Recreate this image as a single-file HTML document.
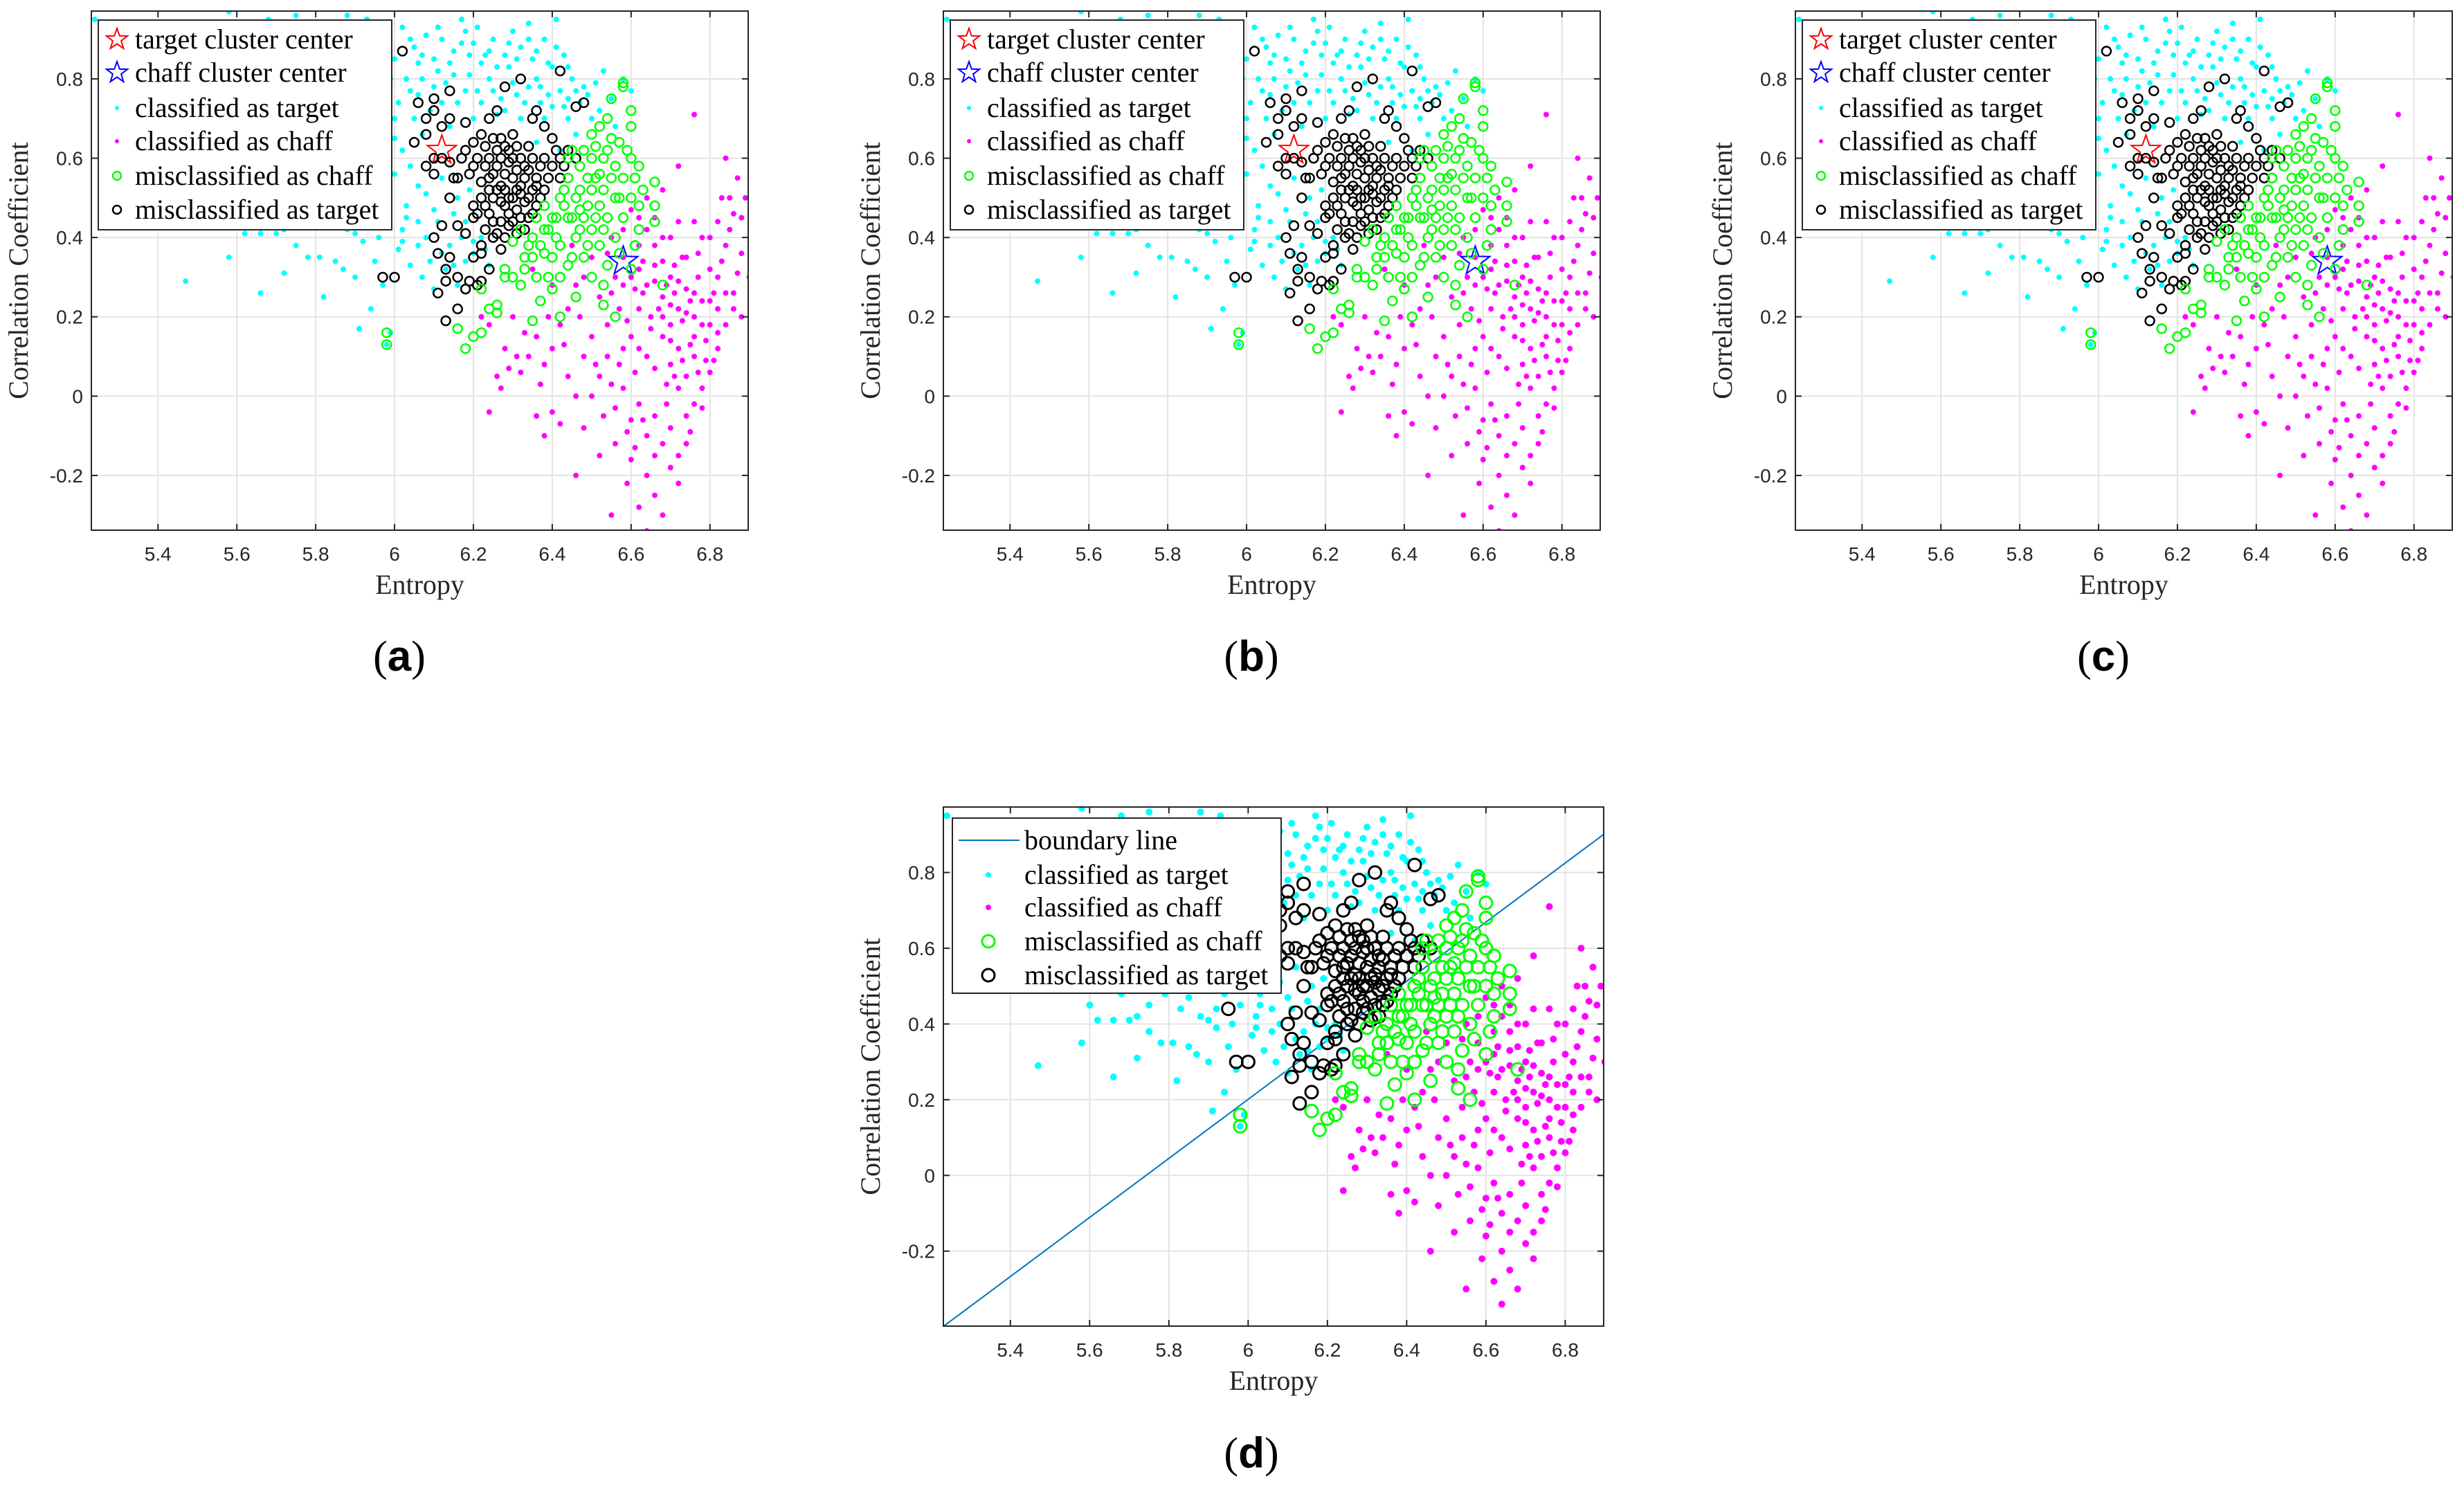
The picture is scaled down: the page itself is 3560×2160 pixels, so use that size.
<!DOCTYPE html>
<html><head><meta charset="utf-8"><style>
html,body{margin:0;padding:0;background:#fff;}
svg{display:block;}
</style></head><body>
<svg id="fig" xmlns="http://www.w3.org/2000/svg" width="3560" height="2160" viewBox="0 0 3560 2160"></svg>
<script>
const xTicks=[5.4,5.6,5.8,6,6.2,6.4,6.6,6.8];
const xTickLabels=["5.4","5.6","5.8","6","6.2","6.4","6.6","6.8"];
const yTicks=[0.8,0.6,0.4,0.2,0,-0.2];
const yTickLabels=["0.8","0.6","0.4","0.2","0","-0.2"];
const targetCenter=[6.12,0.62];
const chaffCenter=[6.58,0.34];
const boundarySlope=0.78;
const boundaryIntercept=-0.398;
const boundaryX0=5.232;
const cyanPts=[6.02,0.93,6.05,0.88,6.08,0.91,6.1,0.85,6.12,0.9,6.15,0.87,6.18,0.92,6.2,0.89,6.22,0.84,6.25,0.9,6.28,0.86,6.3,0.92,6.32,0.88,6.35,0.85,6.38,0.9,6.4,0.83,6.43,0.86,6.45,0.8,6.03,0.8,6.06,0.76,6.09,0.72,6.13,0.79,6.16,0.74,6.19,0.81,6.21,0.77,6.24,0.8,6.27,0.75,6.3,0.79,6.33,0.74,6.36,0.8,6.39,0.76,6.42,0.77,6.47,0.74,6.5,0.7,6.26,0.71,6.32,0.7,6.38,0.7,6.44,0.7,6.2,0.7,6.14,0.68,6.07,0.66,6.02,0.62,6.0,0.7,5.98,0.75,5.95,0.83,5.97,0.9,5.93,0.95,5.88,0.96,5.75,0.96,5.68,0.95,5.58,0.97,5.24,0.95,5.82,0.6,5.86,0.55,5.9,0.5,5.94,0.58,5.97,0.52,6.0,0.56,6.03,0.48,6.06,0.53,6.1,0.47,6.12,0.55,6.16,0.5,6.18,0.44,5.92,0.44,5.88,0.42,5.96,0.4,6.02,0.42,6.08,0.4,6.14,0.38,6.2,0.36,6.24,0.33,6.22,0.4,5.85,0.47,5.8,0.52,5.78,0.57,5.75,0.45,5.72,0.42,5.7,0.41,5.68,0.48,5.64,0.52,5.66,0.41,5.6,0.45,5.47,0.29,5.58,0.35,5.62,0.41,5.66,0.26,5.72,0.31,5.75,0.38,5.78,0.35,5.81,0.35,5.82,0.25,5.85,0.34,5.87,0.32,5.9,0.3,5.91,0.17,5.92,0.39,5.94,0.22,5.95,0.34,5.97,0.28,5.98,0.13,5.99,0.16,6.01,0.37,6.04,0.33,6.07,0.3,6.1,0.27,6.13,0.32,6.16,0.28,6.03,0.45,6.06,0.44,6.48,0.78,6.52,0.72,6.55,0.75,6.58,0.8,6.56,0.68,6.46,0.66,6.42,0.62,6.36,0.64,6.6,0.77,6.53,0.82,6.11,0.82,6.23,0.86,6.34,0.94,6.41,0.95,6.17,0.95,6.29,0.83,6.37,0.78,6.44,0.75,6.06,0.84,6.0,0.65,5.92,0.66,5.86,0.63,5.9,0.72,5.84,0.8,
6.04,0.9,6.07,0.86,6.11,0.93,6.14,0.84,6.17,0.89,6.19,0.86,6.21,0.93,6.24,0.87,6.26,0.83,6.29,0.89,6.31,0.85,6.34,0.9,6.36,0.87,6.39,0.84,6.41,0.88,6.44,0.83,6.46,0.77,6.49,0.76,6.51,0.79,6.04,0.77,6.07,0.8,6.1,0.78,6.12,0.74,6.15,0.81,6.18,0.77,6.22,0.74,6.25,0.77,6.28,0.72,6.31,0.76,6.34,0.78,6.37,0.74,6.4,0.73,6.43,0.73,6.05,0.7,6.01,0.74,5.99,0.8,6.0,0.85,5.96,0.68,5.94,0.62,5.9,0.57,5.88,0.6,5.84,0.52,5.98,0.6,6.04,0.58,6.08,0.51,6.11,0.44,6.15,0.46,6.19,0.52,6.17,0.4,6.2,0.39,6.23,0.37,6.18,0.34,6.15,0.33,6.12,0.36,6.09,0.34,6.06,0.38,6.02,0.39,5.98,0.45,5.94,0.48,5.9,0.41,5.83,0.44,5.79,0.48,5.76,0.53,5.73,0.49];
const magentaPts=[6.55,0.4,6.58,0.35,6.6,0.3,6.62,0.38,6.64,0.28,6.66,0.33,6.68,0.25,6.7,0.3,6.72,0.22,6.74,0.27,6.76,0.2,6.78,0.24,6.8,0.18,6.82,0.3,6.84,0.38,6.86,0.26,6.88,0.45,6.7,0.4,6.74,0.35,6.78,0.4,6.82,0.44,6.66,0.45,6.62,0.22,6.6,0.15,6.64,0.1,6.68,0.15,6.7,0.08,6.72,0.12,6.74,0.05,6.76,0.1,6.78,0.02,6.8,0.06,6.82,0.12,6.84,0.18,6.86,0.22,6.88,0.36,6.89,0.5,6.87,0.55,6.85,0.5,6.84,0.6,6.76,0.71,6.72,0.58,6.68,0.52,6.64,0.5,6.6,0.47,6.56,0.3,6.57,0.22,6.54,0.18,6.52,0.25,6.5,0.35,6.48,0.3,6.46,0.28,6.44,0.22,6.42,0.18,6.4,0.12,6.38,0.08,6.36,0.15,6.34,0.1,6.32,0.06,6.3,0.2,6.28,0.12,6.26,0.05,6.24,0.18,6.22,0.2,6.44,0.05,6.48,0.1,6.5,0.0,6.52,0.05,6.54,0.1,6.56,-0.03,6.58,0.02,6.6,-0.06,6.62,-0.02,6.64,-0.1,6.66,-0.05,6.68,-0.12,6.7,-0.08,6.72,-0.15,6.74,-0.05,6.76,-0.02,6.78,-0.03,6.56,-0.12,6.6,-0.16,6.64,-0.2,6.66,-0.25,6.68,-0.3,6.62,-0.28,6.55,-0.3,6.64,-0.34,6.72,-0.22,6.52,-0.15,6.48,-0.08,6.4,-0.04,6.38,-0.1,6.27,0.02,6.24,-0.04,6.46,-0.2,6.58,0.12,6.62,0.32,6.58,0.42,6.54,0.36,6.7,0.18,6.73,0.35,6.77,0.3,6.8,0.32,6.82,0.22,6.76,0.15,6.72,0.02,6.68,0.2,6.66,0.38,6.64,0.42,6.35,0.32,6.4,0.28,6.45,0.38,6.69,0.28,6.71,0.26,6.73,0.19,6.75,0.24,6.71,0.33,6.67,0.22,6.63,0.26,6.79,0.14,6.81,0.26,6.77,0.36,6.65,0.17,6.61,0.06,6.69,0.03,6.75,-0.09,6.59,-0.22,
6.66,0.29,6.68,0.34,6.7,0.23,6.72,0.29,6.74,0.21,6.76,0.26,6.78,0.18,6.8,0.24,6.7,0.14,6.73,0.09,6.77,0.06,6.81,0.09,6.83,0.34,6.85,0.42,6.87,0.31,6.86,0.46,6.83,0.5,6.8,0.4,6.76,0.44,6.72,0.44,6.68,0.4,6.63,0.34,6.61,0.27,6.59,0.19,6.57,0.08,6.55,0.03,6.62,0.12,6.66,0.07,6.69,-0.02,6.63,-0.06,6.59,-0.09,6.53,-0.05,6.5,0.15,6.47,0.2,6.43,0.13,6.39,0.2,6.37,0.03,6.33,0.16,6.31,0.1,6.29,0.07,6.36,-0.05,6.42,-0.07,6.46,0.0,6.51,0.08,6.55,0.26,6.58,0.28,6.62,0.45,6.65,0.2,6.71,0.05,6.75,0.13,6.79,0.09,6.82,0.16,6.84,0.26,6.88,0.2,6.9,0.3,6.74,-0.12,6.7,-0.18,6.66,-0.15,6.61,-0.13];
const greenPts=[6.16,0.17,6.18,0.12,6.2,0.15,6.22,0.16,6.22,0.27,6.24,0.22,6.26,0.23,6.26,0.21,6.28,0.3,6.3,0.3,6.32,0.28,6.33,0.35,6.35,0.4,6.35,0.19,6.36,0.3,6.37,0.24,6.38,0.36,6.38,0.42,6.4,0.27,6.4,0.45,6.42,0.2,6.42,0.3,6.42,0.38,6.42,0.5,6.44,0.33,6.44,0.45,6.44,0.55,6.46,0.25,6.46,0.4,6.46,0.5,6.47,0.58,6.48,0.35,6.48,0.45,6.48,0.62,6.5,0.3,6.5,0.42,6.5,0.52,6.5,0.6,6.5,0.66,6.52,0.38,6.52,0.48,6.52,0.56,6.52,0.68,6.53,0.23,6.53,0.28,6.54,0.33,6.54,0.45,6.54,0.62,6.54,0.7,6.56,0.4,6.56,0.5,6.56,0.58,6.56,0.2,6.57,0.64,6.58,0.45,6.58,0.55,6.58,0.79,6.6,0.32,6.6,0.5,6.6,0.6,6.6,0.72,6.6,0.68,6.62,0.42,6.62,0.58,6.62,0.48,6.66,0.54,6.66,0.48,6.66,0.44,6.68,0.28,6.58,0.78,6.55,0.75,6.4,0.35,6.36,0.45,6.3,0.39,6.32,0.42,6.45,0.62,6.49,0.55,6.44,0.6,6.28,0.32,5.98,0.16,5.98,0.13,6.34,0.38,6.38,0.48,6.41,0.4,6.43,0.52,6.47,0.47,6.51,0.45,6.53,0.52,6.45,0.35,6.39,0.3,6.57,0.36,6.61,0.38,6.63,0.52,
6.45,0.45,6.47,0.52,6.49,0.48,6.51,0.55,6.53,0.6,6.55,0.55,6.55,0.65,6.51,0.63,6.49,0.38,6.47,0.42,6.43,0.48,6.41,0.45,6.39,0.42,6.37,0.38,6.35,0.35,6.33,0.32,6.53,0.42,6.57,0.5,6.59,0.62,6.61,0.55];
const blackPts=[6.02,0.87,5.97,0.3,6.0,0.3,6.06,0.74,6.1,0.75,6.14,0.77,6.08,0.7,6.1,0.72,6.14,0.7,6.12,0.68,6.05,0.64,6.08,0.66,6.1,0.6,6.12,0.6,6.14,0.59,6.15,0.55,6.16,0.55,6.08,0.58,6.1,0.56,6.14,0.5,6.16,0.43,6.18,0.41,6.12,0.43,6.1,0.4,6.11,0.36,6.14,0.35,6.13,0.32,6.13,0.29,6.16,0.3,6.19,0.29,6.21,0.28,6.22,0.29,6.11,0.26,6.13,0.19,6.16,0.22,6.18,0.27,6.2,0.35,6.22,0.36,6.24,0.32,6.22,0.38,6.25,0.4,6.27,0.37,6.28,0.4,6.2,0.45,6.22,0.5,6.24,0.55,6.2,0.58,6.18,0.62,6.2,0.64,6.22,0.66,6.24,0.6,6.26,0.62,6.26,0.52,6.28,0.56,6.28,0.48,6.3,0.5,6.3,0.6,6.3,0.66,6.32,0.53,6.32,0.45,6.34,0.5,6.34,0.57,6.34,0.63,6.36,0.48,6.36,0.55,6.38,0.52,6.38,0.6,6.4,0.58,6.4,0.65,6.42,0.6,6.42,0.55,6.44,0.62,6.46,0.6,6.28,0.78,6.32,0.8,6.42,0.82,6.46,0.73,6.48,0.74,6.35,0.7,6.38,0.68,6.36,0.72,6.24,0.7,6.26,0.72,6.18,0.69,6.27,0.44,6.29,0.43,6.31,0.47,6.33,0.42,6.24,0.46,6.26,0.58,6.3,0.55,6.32,0.6,6.28,0.63,6.25,0.5,6.22,0.54,6.35,0.52,6.37,0.58,6.3,0.44,5.95,0.44,6.2,0.48,6.27,0.53,6.29,0.5,6.33,0.49,6.31,0.57,6.23,0.58,6.25,0.65,6.29,0.59,6.31,0.52,6.33,0.55,6.27,0.6,6.25,0.44,6.23,0.42,6.35,0.46,6.27,0.49,
6.21,0.6,6.23,0.63,6.25,0.56,6.27,0.65,6.29,0.62,6.31,0.63,6.33,0.58,6.35,0.6,6.37,0.5,6.29,0.46,6.31,0.41,6.26,0.41,6.24,0.52,6.28,0.52,6.32,0.51,6.36,0.53,6.34,0.45,6.39,0.55,6.41,0.62,6.43,0.58,6.19,0.56,6.17,0.6,6.21,0.46,6.23,0.48];

const NS="http://www.w3.org/2000/svg";
const svg=document.getElementById('fig');
function mk(tag,attrs,parent){const e=document.createElementNS(NS,tag);for(const k in attrs)e.setAttribute(k,attrs[k]);(parent||svg).appendChild(e);return e;}

const panels=[
 {id:'a',px0:132,px1:1081,py0:16,py1:766,ymin:-0.338,ymax:0.971,lx:142,ly:29,lw:424,lh:303,lab:[577,949]},
 {id:'b',px0:1363,px1:2312,py0:16,py1:766,ymin:-0.338,ymax:0.971,lx:1373,ly:29,lw:424,lh:303,lab:[1808,949]},
 {id:'c',px0:2594,px1:3543,py0:16,py1:766,ymin:-0.338,ymax:0.971,lx:2604,ly:29,lw:424,lh:303,lab:[3039,949]},
 {id:'d',px0:1363,px1:2317,py0:1166,py1:1916,ymin:-0.398,ymax:0.973,lx:1376,ly:1182,lw:475,lh:253,lab:[1808,2100]}
];
const XMIN=5.231,XMAX=6.897;

function star(g,cx,cy,r,color){
 let p=[];for(let i=0;i<10;i++){const a=-Math.PI/2+i*Math.PI/5;const rr=i%2?r*0.4:r;p.push((cx+rr*Math.cos(a)).toFixed(1)+','+(cy+rr*Math.sin(a)).toFixed(1));}
 return mk('polygon',{points:p.join(' '),fill:'none',stroke:color,'stroke-width':2},g);
}

panels.forEach(P=>{
 const big=P.id==='d';
 const sx=v=>P.px0+(v-XMIN)/(XMAX-XMIN)*(P.px1-P.px0);
 const sy=v=>P.py1-(v-P.ymin)/(P.ymax-P.ymin)*(P.py1-P.py0);
 const g=mk('g',{});
 
 
 const grid=mk('g',{},g);
 
 
 xTicks.forEach(t=>mk('line',{x1:sx(t),x2:sx(t),y1:P.py0,y2:P.py1,stroke:'#e3e3e3','stroke-width':2},grid));
 yTicks.forEach(t=>mk('line',{x1:P.px0,x2:P.px1,y1:sy(t),y2:sy(t),stroke:'#e3e3e3','stroke-width':2},grid));
 const clipId='clip'+P.id;
 const cp=mk('clipPath',{id:clipId},g);mk('rect',{x:P.px0,y:P.py0,width:P.px1-P.px0,height:P.py1-P.py0},cp);
 const data=mk('g',{'clip-path':'url(#'+clipId+')'},g);
 
 
 if(!big){
  const s1=star(data,sx(targetCenter[0]),sy(targetCenter[1]),22,'#ff0000');
  
  
  const s2=star(data,sx(chaffCenter[0]),sy(chaffCenter[1]),22,'#0000ff');
  
  
 }
 if(big){
  const x2=XMAX;
  const bl=mk('line',{x1:sx(boundaryX0),y1:sy(boundaryIntercept),x2:sx(x2),y2:sy(boundaryIntercept+boundarySlope*(x2-boundaryX0)),stroke:'#0072bd','stroke-width':2},data);
  
  
 }
 const dr=big?5:4;
 const cr=big?9:6.5;
 const cw=big?3:2.5;
 function dots(arr,color,name){
  const s=mk('g',{fill:color},data);
  
  
  for(let i=0;i<arr.length;i+=2){mk('circle',{cx:sx(arr[i]).toFixed(1),cy:sy(arr[i+1]).toFixed(1),r:dr},s);}
 }
 function rings(arr,color,name){
  const s=mk('g',{fill:'none',stroke:color,'stroke-width':cw},data);
  
  
  for(let i=0;i<arr.length;i+=2){mk('circle',{cx:sx(arr[i]).toFixed(1),cy:sy(arr[i+1]).toFixed(1),r:cr},s);}
 }
 dots(cyanPts,'#00ffff','classified-target-points');
 dots(magentaPts,'#ff00ff','classified-chaff-points');
 rings(blackPts,'#000000','misclassified-target-circles');
 rings(greenPts,'#00ff00','misclassified-chaff-circles');
 const ax=mk('g',{stroke:'#262626','stroke-width':2,fill:'none'},g);
 
 
 mk('rect',{x:P.px0,y:P.py0,width:P.px1-P.px0,height:P.py1-P.py0},ax);
 const tl=9;
 xTicks.forEach(t=>{mk('line',{x1:sx(t),x2:sx(t),y1:P.py1,y2:P.py1-tl},ax);mk('line',{x1:sx(t),x2:sx(t),y1:P.py0,y2:P.py0+tl},ax);});
 yTicks.forEach(t=>{mk('line',{x1:P.px0,x2:P.px0+tl,y1:sy(t),y2:sy(t)},ax);mk('line',{x1:P.px1,x2:P.px1-tl,y1:sy(t),y2:sy(t)},ax);});
 const xl=mk('g',{'font-family':'"Liberation Sans",sans-serif','font-size':28,fill:'#262626','text-anchor':'middle'},g);
 
 
 xTicks.forEach((t,i)=>{const e=mk('text',{x:sx(t),y:P.py1+44},xl);e.textContent=xTickLabels[i];});
 const yl=mk('g',{'font-family':'"Liberation Sans",sans-serif','font-size':28,fill:'#262626','text-anchor':'end'},g);
 
 
 yTicks.forEach((t,i)=>{const e=mk('text',{x:P.px0-12,y:sy(t)+10},yl);e.textContent=yTickLabels[i];});
 const xt=mk('text',{x:(P.px0+P.px1)/2,y:P.py1+92,'font-family':'"Liberation Serif",serif','font-size':40,fill:'#262626','text-anchor':'middle'},g);
 xt.textContent='Entropy';
 
 
 const yc=(P.py0+P.py1)/2;
 const yx=P.px0-92;
 const yt=mk('text',{x:yx,y:yc,transform:'rotate(-90 '+yx+' '+yc+')','font-family':'"Liberation Serif",serif','font-size':40,fill:'#262626','text-anchor':'middle'},g);
 yt.textContent='Correlation Coefficient';
 
 
 const lg=mk('g',{},g);
 
 
 mk('rect',{x:P.lx,y:P.ly,width:P.lw,height:P.lh,fill:'#fff',stroke:'#262626','stroke-width':2},lg);
 const tf={'font-family':'"Liberation Serif",serif','font-size':40,fill:'#000'};
 function ltext(x,y,s){const e=mk('text',Object.assign({x:x,y:y+13},tf),lg);e.textContent=s;const nm=s.replace(/ /g,'-');}
 if(!big){
  const mx=P.lx+27,tx=P.lx+53;
  const rows=[28,76,127,175,225,274].map(v=>P.ly+v);
  star(lg,mx,rows[0],16,'#ff0000');ltext(tx,rows[0],'target cluster center');
  star(lg,mx,rows[1],16,'#0000ff');ltext(tx,rows[1],'chaff cluster center');
  mk('circle',{cx:mx,cy:rows[2],r:3,fill:'#00ffff'},lg);ltext(tx,rows[2],'classified as target');
  mk('circle',{cx:mx,cy:rows[3],r:3,fill:'#ff00ff'},lg);ltext(tx,rows[3],'classified as chaff');
  mk('circle',{cx:mx,cy:rows[4],r:6,fill:'none',stroke:'#00ff00','stroke-width':2.5},lg);ltext(tx,rows[4],'misclassified as chaff');
  mk('circle',{cx:mx,cy:rows[5],r:6,fill:'none',stroke:'#000','stroke-width':2.5},lg);ltext(tx,rows[5],'misclassified as target');
 }else{
  const mx=P.lx+52,tx=P.lx+104;
  const rows=[32,82,129,178,227].map(v=>P.ly+v);
  mk('line',{x1:P.lx+9,x2:P.lx+97,y1:rows[0],y2:rows[0],stroke:'#0072bd','stroke-width':2},lg);ltext(tx,rows[0],'boundary line');
  mk('circle',{cx:mx,cy:rows[1],r:4,fill:'#00ffff'},lg);ltext(tx,rows[1],'classified as target');
  mk('circle',{cx:mx,cy:rows[2],r:4,fill:'#ff00ff'},lg);ltext(tx,rows[2],'classified as chaff');
  mk('circle',{cx:mx,cy:rows[3],r:9,fill:'none',stroke:'#00ff00','stroke-width':3},lg);ltext(tx,rows[3],'misclassified as chaff');
  mk('circle',{cx:mx,cy:rows[4],r:9,fill:'none',stroke:'#000','stroke-width':3},lg);ltext(tx,rows[4],'misclassified as target');
 }
 const sl=mk('text',{x:P.lab[0],y:P.lab[1]+20,'font-family':'"Liberation Serif",serif','font-size':62,fill:'#000','text-anchor':'middle'},g);
 sl.innerHTML='(<tspan font-weight="bold" font-family="Liberation Sans, sans-serif">'+P.id+'</tspan>)';
 
 
});
</script>
</body></html>
